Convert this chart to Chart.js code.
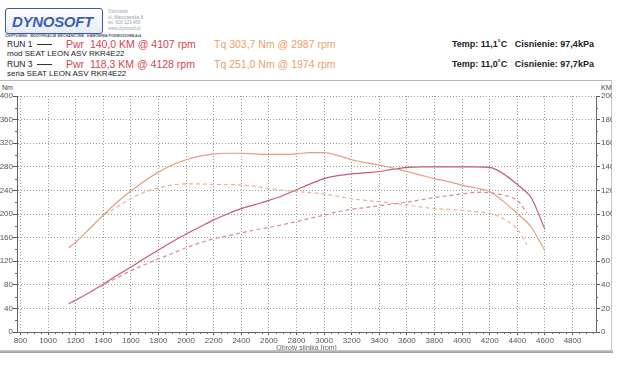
<!DOCTYPE html>
<html>
<head>
<meta charset="utf-8">
<script src="https://cdn.jsdelivr.net/npm/chart.js@4.4.1/dist/chart.umd.min.js"></script>
<style>
  body { margin: 0; background: #fff; font-family: "Liberation Sans", Arial, sans-serif; }
  #wrap { position: relative; width: 620px; height: 365px; overflow: hidden; }
  .t { position: absolute; white-space: nowrap; line-height: 1; }
  #logo { position: absolute; left: 5px; top: 8px; width: 96px; height: 24px; border: 1.5px solid #3b5aa6; border-radius: 3px;
          background: linear-gradient(#ffffff, #e6ebf5); overflow: hidden; }
  #logo span { position: absolute; left: 6px; top: 4px; font-size: 15px; font-weight: bold; font-style: italic; color: #3d5fb4; letter-spacing: -0.3px; }
  #frameTop { position: absolute; left: 0; top: 80px; width: 612px; height: 1px; background: #b8b8b8; }
  #frameRight { position: absolute; left: 611px; top: 80px; width: 1px; height: 272px; background: #c8c8c8; }
  #frameBottom { position: absolute; left: 0; top: 350px; width: 613px; height: 3px; background: linear-gradient(#cfcfcf, #9a9a9a); }
  #chartBox { position: absolute; left: 0; top: 82px; width: 612px; height: 271px; }
</style>
</head>
<body>
<div id="wrap">
  <div id="logo"><span>DYNOSOFT</span></div>
  <div class="t" style="left:108px;top:9px;font-size:4.5px;color:#9aa3b8;line-height:5.5px;">Ostrowski<br>ul. Warszawska 8<br>tel. 600 123 456<br>www.dynosoft.pl</div>
  <div class="t" style="left:5px;top:35px;font-size:3.6px;font-weight:bold;color:#4a5670;">CHIPTUNING &nbsp; MODYFIKACJE MECHANICZNE &nbsp; HAMOWNIA PODWOZIOWA 4x4</div>

  <div class="t" style="left:7px;top:40px;font-size:8.5px;color:#222;">RUN 1</div>
  <div style="position:absolute;left:37px;top:44px;width:15px;height:1px;background:#333;"></div>
  <div class="t" style="left:66px;top:39px;font-size:10.5px;color:#d6454f;">Pwr&nbsp; 140,0 KM @ 4107 rpm</div>
  <div class="t" style="left:214px;top:39px;font-size:10.5px;color:#eba066;">Tq 303,7 Nm @ 2987 rpm</div>
  <div class="t" style="left:452px;top:40px;font-size:9px;color:#222;font-weight:bold;">Temp: 11,1˚C &nbsp; Cisnienie: 97,4kPa</div>
  <div class="t" style="left:7px;top:50px;font-size:8px;color:#222;">mod SEAT LEON ASV RKR4E22</div>

  <div class="t" style="left:7px;top:60px;font-size:8.5px;color:#222;">RUN 3</div>
  <div style="position:absolute;left:37px;top:64px;width:15px;height:1px;background:#333;"></div>
  <div class="t" style="left:66px;top:59px;font-size:10.5px;color:#d6454f;">Pwr&nbsp; 118,3 KM @ 4128 rpm</div>
  <div class="t" style="left:214px;top:59px;font-size:10.5px;color:#eba066;">Tq 251,0 Nm @ 1974 rpm</div>
  <div class="t" style="left:452px;top:60px;font-size:9px;color:#222;font-weight:bold;">Temp: 11,0˚C &nbsp; Cisnienie: 97,7kPa</div>
  <div class="t" style="left:7px;top:70px;font-size:8px;color:#222;">seria SEAT LEON ASV RKR4E22</div>

  <div id="frameTop"></div>
  <div id="frameRight"></div>
  <div class="t" style="left:2px;top:84px;font-size:7px;color:#444;">Nm</div>
  <div class="t" style="left:601px;top:84px;font-size:7px;color:#444;">KM</div>
  <div id="chartBox"><canvas id="dyno" width="612" height="271"></canvas></div>
  <div id="frameBottom"></div>
</div>

<script>
// Obroty silnika [rpm]
const rpm = [1150, 1200, 1300, 1400, 1500, 1600, 1700, 1800, 1900, 2000,
             2100, 2200, 2300, 2400, 2500, 2600, 2700, 2800, 2900, 3000,
             3100, 3200, 3300, 3400, 3500, 3600, 3700, 3800, 3900, 4000,
             4100, 4200, 4300, 4400, 4470, 4500, 4600];

// RUN 1 - mod (Nm / KM)
const run1Torque = [143, 152, 175, 198, 220, 239, 256, 271, 283, 292,
                    298, 302, 303, 303, 302, 301, 301, 302, 304, 304,
                    299, 292, 287, 283, 278, 272, 266, 260, 255, 249,
                    244, 238, 221, 201, 186, 178, 138];
const run1Power = [24, 27, 33.5, 40.5, 48, 55, 62.5, 69.5, 76.5, 83,
                   89, 95, 100, 104.5, 108, 111.5, 115.5, 120.5, 125.5, 130,
                   132.5, 134, 135, 136, 138, 139.5, 140, 140, 140, 140,
                   140, 139.5, 134, 125, 118, 114, 87];

// RUN 3 - seria (Nm / KM)
const run3Torque = [143, 152, 175, 197, 212, 226, 237, 244, 249, 251,
                    251, 250, 250, 249, 247, 243, 240, 238, 236, 234,
                    230, 226, 223, 221, 218, 215, 212, 209, 208, 206,
                    204, 201, 192, 174, 148, null, null];
const run3Power = [24, 27, 33.5, 40, 46, 52, 57, 62, 66.5, 71.5,
                   75.5, 79, 81.5, 84, 86.5, 88.5, 91, 93.5, 96.5, 99,
                   102, 104, 105.5, 107, 108.5, 110, 112, 114, 115.5, 117,
                   118.3, 118, 116, 111.5, 101, null, null];

// osie
const rpmTicks = [800, 1000, 1200, 1400, 1600, 1800, 2000, 2200, 2400, 2600, 2800,
                  3000, 3200, 3400, 3600, 3800, 4000, 4200, 4400, 4600, 4800];
const nmTicks = [0, 40, 80, 120, 160, 200, 240, 280, 320, 360, 400];
const kmTicks = [0, 20, 40, 60, 80, 100, 120, 140, 160, 180, 200];

const torqueColor = '#e4a07c';
const powerColor = '#c95a6e';
const torqueDashed = '#e9b496';
const powerDashed = '#d88a98';
const font = { family: '"Liberation Sans", Arial, sans-serif', size: 8 };

const pts = (vals) => rpm.map((r, i) => ({ x: r, y: vals[i] })).filter(p => p.y !== null);

// drobne kreski na osiach
const minorTicks = {
  id: 'minorTicks',
  afterDraw(chart) {
    const { ctx, chartArea, scales } = chart;
    ctx.save();
    ctx.strokeStyle = '#666';
    ctx.lineWidth = 1;
    ctx.beginPath();
    for (let v = 800; v <= 4950; v += 50) {
      if (v % 200 === 0) continue;
      const x = Math.round(scales.x.getPixelForValue(v)) + 0.5;
      ctx.moveTo(x, chartArea.bottom);
      ctx.lineTo(x, chartArea.bottom + 2);
    }
    for (let v = 20; v < 400; v += 40) {
      const y = Math.round(scales.y.getPixelForValue(v)) + 0.5;
      ctx.moveTo(chartArea.left, y);
      ctx.lineTo(chartArea.left - 2, y);
    }
    for (let v = 10; v < 200; v += 20) {
      const y = Math.round(scales.y2.getPixelForValue(v)) + 0.5;
      ctx.moveTo(chartArea.right, y);
      ctx.lineTo(chartArea.right + 2, y);
    }
    ctx.stroke();
    ctx.restore();
  }
};

const line = (label, data, color, axis, dashed) => ({
  label,
  data: pts(data),
  yAxisID: axis,
  borderColor: color,
  borderWidth: 1.2,
  borderDash: dashed ? [4, 3] : [],
  pointRadius: 0,
  cubicInterpolationMode: 'monotone',
  fill: false
});

new Chart(document.getElementById('dyno'), {
  type: 'line',
  data: {
    datasets: [
      line('RUN 3 Tq', run3Torque, torqueDashed, 'y', true),
      line('RUN 3 Pwr', run3Power, powerDashed, 'y2', true),
      line('RUN 1 Tq', run1Torque, torqueColor, 'y', false),
      line('RUN 1 Pwr', run1Power, powerColor, 'y2', false)
    ]
  },
  options: {
    responsive: false,
    animation: false,
    layout: { padding: { top: 14, left: 0, right: 0, bottom: 0 } },
    plugins: { legend: { display: false }, tooltip: { enabled: false } },
    scales: {
      x: {
        type: 'linear',
        min: 775,
        max: 4970,
        afterFit: (s) => { s.height = 21; },
        afterBuildTicks: (s) => { s.ticks = rpmTicks.map(v => ({ value: v })); },
        grid: { color: '#9a9a9a', tickColor: '#555', tickLength: 3, tickBorderDash: [] },
        border: { color: '#666', dash: [1, 2] },
        ticks: { font, color: '#555', padding: 1, maxRotation: 0, autoSkip: false, callback: (v) => String(v) },
        title: { display: true, text: 'Obroty silnika [rpm]', font: { ...font, size: 7 }, color: '#666', padding: { top: 0, bottom: 1 } }
      },
      y: {
        position: 'left',
        min: 0,
        max: 400,
        afterFit: (s) => { s.width = 17; },
        afterBuildTicks: (s) => { s.ticks = nmTicks.map(v => ({ value: v })); },
        grid: { color: '#9a9a9a', tickColor: '#555', tickLength: 4, tickBorderDash: [] },
        border: { color: '#666', dash: [1, 2] },
        ticks: { font, color: '#555', padding: 0, callback: (v) => String(v) }
      },
      y2: {
        position: 'right',
        min: 0,
        max: 200,
        afterFit: (s) => { s.width = 16; },
        afterBuildTicks: (s) => { s.ticks = kmTicks.map(v => ({ value: v })); },
        grid: { drawOnChartArea: false, tickColor: '#555', tickLength: 4 },
        border: { color: '#666' },
        ticks: { font, color: '#555', padding: 1, callback: (v) => String(v) }
      }
    }
  },
  plugins: [minorTicks]
});
</script>
</body>
</html>
